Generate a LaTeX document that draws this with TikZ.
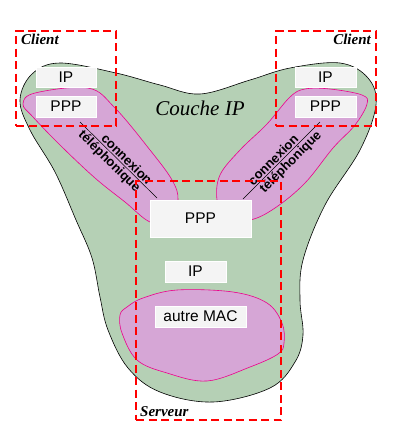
\documentclass[tikz,border=0pt]{standalone}
\usepackage{fontspec}
\setmainfont{Liberation Serif}
\setsansfont{Liberation Sans}
\usetikzlibrary{positioning}

\definecolor{couchegreen}{RGB}{181,208,181}
\definecolor{lienpink}{RGB}{214,166,214}
\definecolor{boxgray}{RGB}{244,244,244}

\begin{document}
\begin{tikzpicture}[x=1pt,y=-1pt]

\tikzset{layer/.style = {shape=rectangle,fill=boxgray,draw=white,line width=0.8pt,minimum height=21pt,inner sep=0pt,font=\sffamily\fontsize{15.5}{16}\selectfont}}
\tikzset{machine/.style = {shape=rectangle,draw=red,line width=2pt,dash pattern=on 8pt off 4.5pt,inner sep=0pt}}
\tikzset{role/.style = {inner sep=0pt,font=\fontsize{15}{16}\selectfont\bfseries\itshape}}
\tikzset{ligne/.style = {inner sep=1.5pt,font=\sffamily\bfseries\fontsize{13}{14}\selectfont}}
\tikzset{lien/.style = {fill=lienpink,draw=magenta,line width=0.6pt}}

\useasboundingbox (0,0) rectangle (405,437);

%couche IP
\draw[fill=couchegreen,line width=0.6pt] plot[smooth cycle,tension=0.6] coordinates {
  (20,100) (32,74) (60,63) (116,73) (160,85) (200,94) (250,80) (290,68) (340,63)
  (368,78) (376,105) (360,150) (325,205) (303,260) (300,300) (303,335) (295,362)
  (270,388) (213,402) (160,392) (128,368) (108,330) (100,297) (92,258) (76,220)
  (55,172) (30,130)};
%liens
\draw[lien] plot[smooth cycle,tension=0.6] coordinates {
  (23,104) (35,93) (88,88) (115,108) (150,150) (172,180) (178,200) (170,222)
  (150,222) (125,202) (95,178) (60,145) (33,117)};
\draw[lien] plot[smooth cycle,tension=0.6] coordinates {
  (290,97) (305,89) (330,89) (362,95) (367,104) (355,125) (333,148) (305,183)
  (275,208) (250,220) (225,218) (217,200) (220,175) (240,150) (267,124)};
\draw[lien] plot[smooth cycle,tension=0.6] coordinates {
  (143,298) (177,290) (233,292) (267,303) (282,323) (284,343) (278,354) (250,367)
  (207,381) (167,373) (137,360) (122,333) (120,315) (127,307)};

\node[font=\fontsize{21}{22}\selectfont\itshape] (couche) at (200,108) {Couche IP};

%connexions
\coordinate (telL1) at (80,122);
\coordinate (telL2) at (157,198);
\coordinate (telR1) at (243,199);
\coordinate (telR2) at (320,122);
\draw[line width=0.5pt] (telL1) -- (telL2)
  node[ligne,pos=0.55,sloped,above] (conL) {connexion}
  node[ligne,pos=0.45,sloped,below] (telL) {téléphonique};
\draw[line width=0.5pt] (telR1) -- (telR2)
  node[ligne,pos=0.45,sloped,above] (conR) {connexion}
  node[ligne,pos=0.55,sloped,below] (telR) {téléphonique};

%couches
\node[layer,minimum width=60pt,minimum height=20pt] (ipL) at (66,77) {IP};
\node[layer,minimum width=60pt] (pppL) at (66,106.5) {PPP};
\node[layer,minimum width=61pt,minimum height=20pt] (ipR) at (325.5,77) {IP};
\node[layer,minimum width=61pt] (pppR) at (325.5,106.5) {PPP};
\node[layer,minimum width=101pt,minimum height=37pt] (pppS) at (200.5,218.5) {PPP};
\node[layer,minimum width=61pt] (ipS) at (195.5,271.5) {IP};
\node[layer,minimum width=91pt] (macS) at (200.5,316.5) {autre MAC};

%machines
\node[machine,minimum width=100pt,minimum height=95pt] (clientL) at (66,78.5) {};
\node[machine,minimum width=100pt,minimum height=95pt] (clientR) at (326,78.5) {};
\node[machine,minimum width=145pt,minimum height=239pt] (serveur) at (208.5,300.5) {};
\node[role,below right=4pt and 6pt of clientL.north west] (nomL) {Client};
\node[role,below left=4pt and 6pt of clientR.north east] (nomR) {Client};
\node[role,above right=4pt and 5pt of serveur.south west] (nomS) {Serveur};

\end{tikzpicture}
\end{document}
